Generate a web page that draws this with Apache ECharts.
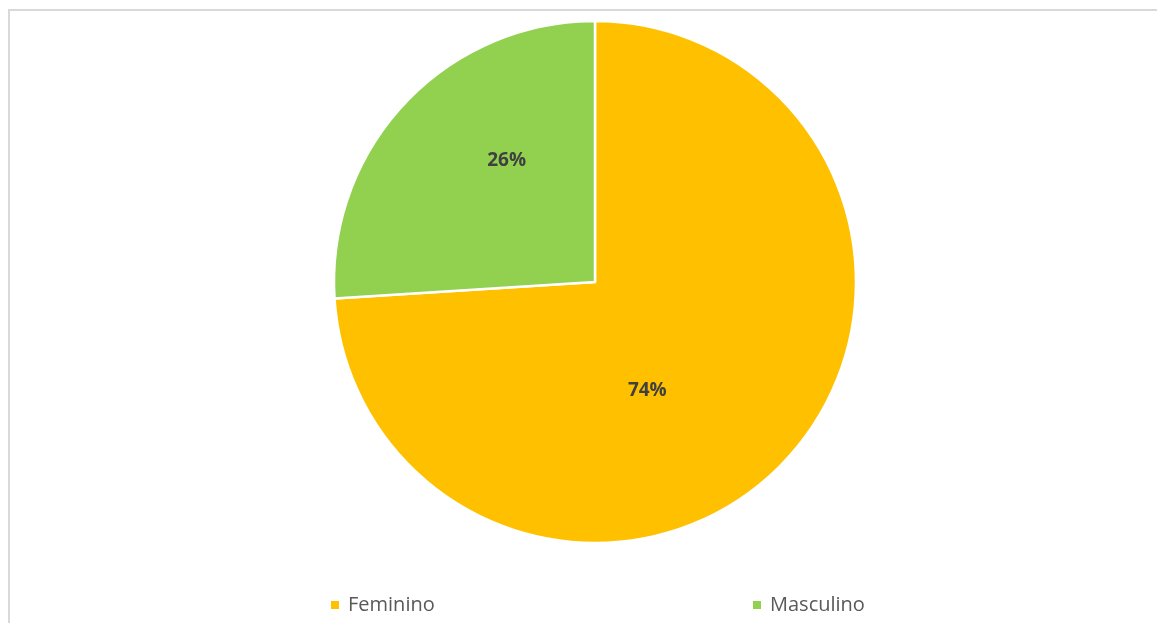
<!DOCTYPE html>
<html><head><meta charset="utf-8">
<script src="https://cdn.jsdelivr.net/npm/echarts@6/dist/echarts.min.js"></script>
<style>
html,body{margin:0;padding:0;background:#fff;}
#frame{position:absolute;left:8px;top:9px;width:1160px;height:620px;border-left:2px solid #d9d9d9;border-top:2px solid #d9d9d9;}
#chart{position:absolute;left:0;top:0;width:1157px;height:623px;}
</style></head>
<body>
<div id="frame"></div>
<div id="chart"></div>
<script>
const categories = ['Feminino', 'Masculino'];
const values = [74, 26];
const colors = ['#FFC000', '#92D050'];
const labelOffsets = [[-45, 17], [9, -30]];

const legendBase = {top: 595, padding: 0, itemWidth: 10, itemHeight: 10, itemGap: 0, icon: 'rect',
  textStyle: {fontFamily: 'Open Sans', fontSize: 20, color: '#595959', padding: [0,0,0,3]}};

const chart = echarts.init(document.getElementById('chart'));
chart.setOption({
  animation: false,
  legend: [
    Object.assign({data: [categories[0]], left: 329}, legendBase),
    Object.assign({data: [categories[1]], left: 751}, legendBase)
  ],
  series: [{
    type: 'pie',
    center: [595, 282],
    radius: [0, 261],
    startAngle: 90,
    clockwise: true,
    itemStyle: {borderColor: '#fff', borderWidth: 2.5},
    label: {
      position: 'inside',
      formatter: p => p.value + '%',
      fontFamily: 'Open Sans', fontWeight: 'bold', fontSize: 19, color: '#404040'
    },
    labelLine: {show: false},
    emphasis: {disabled: true},
    data: categories.map((c, i) => ({
      name: c, value: values[i],
      itemStyle: {color: colors[i]},
      label: {offset: labelOffsets[i]}
    }))
  }]
});
</script>
</body></html>
